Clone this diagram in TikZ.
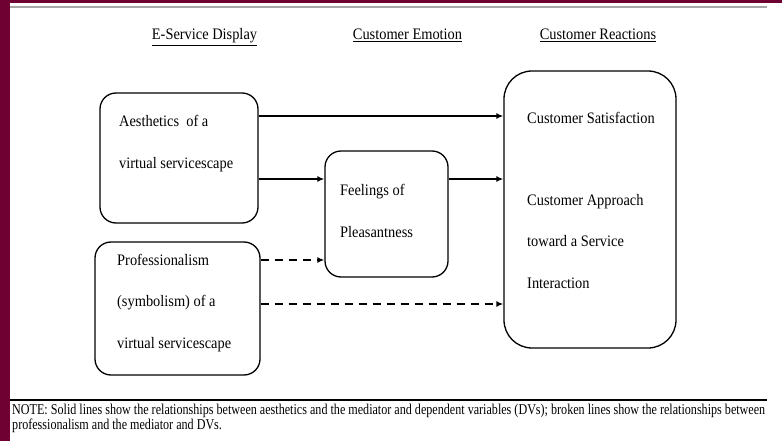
\documentclass[tikz,border=0pt]{standalone}
\usepackage{fontspec}
\setmainfont{Liberation Serif}
\newfontfamily\boxfont{Liberation Serif}[FakeStretch=0.9]
\newfontfamily\notefont{Liberation Serif}[FakeStretch=0.807]
\usepackage{xcolor}
\usetikzlibrary{positioning,arrows.meta}
\definecolor{slidemaroon}{RGB}{110,0,50}

\begin{document}
\begin{tikzpicture}[
    x=1pt, y=-1pt,
    box/.style={draw, rounded corners=16pt, line width=1.3pt, inner sep=0pt},
    txt/.style={anchor=base west, inner sep=0pt, align=left,
                font=\boxfont\fontsize{16}{41.5}\selectfont},
    head/.style={anchor=base, inner sep=0pt, font=\boxfont\fontsize{16}{18}\selectfont},
    arrow/.style={-{Latex[length=7pt,width=6pt]}, line width=2pt},
    dasharrow/.style={arrow, dash pattern=on 8pt off 6pt}
]
\useasboundingbox (0,0) rectangle (782,441);
\fill[white] (0,0) rectangle (782,441);
% slide frame
\fill[slidemaroon] (0,0) rectangle (10,441);
\fill[slidemaroon] (0,0) rectangle (782,3.5);
\draw[gray!70, line width=2.5pt] (10,7) -- (767,7);
\draw[black, line width=1.6pt] (10,400) -- (767,400);

% column heads
\node[head] (hdisp) at (204.5,40) {\underline{E-Service Display}};
\node[head] (hemo) at (407.5,40) {\underline{Customer Emotion}};
\node[head] (hreact) at (598,40) {\underline{Customer Reactions}};

% boxes
\node[box, minimum width=158pt, minimum height=130pt] (aes) at (179,158) {};
\node[box, minimum width=165pt, minimum height=133pt] (prof) at (177.5,308.5) {};
\node[box, minimum width=123pt, minimum height=126pt] (feel) at (386.5,214) {};
\node[box, rounded corners=28pt, minimum width=172pt, minimum height=277pt] (resp) at (590,209.5) {};

% box texts (base = last line)
\node[txt] (aestxt) at (119,168) {Aesthetics~ of a\\virtual servicescape};
\node[txt] (proftxt) at (117,348) {Professionalism\\(symbolism) of a\\virtual servicescape};
\node[txt] (feeltxt) at (340,237) {Feelings of\\Pleasantness};
\node[txt] (sattxt) at (527,124) {Customer Satisfaction};
\node[txt] (apptxt) at (527,288) {Customer Approach\\toward a Service\\Interaction};

% solid paths (aesthetics)
\draw[arrow] (aes.east |- 0,116) -- (resp.west |- 0,116);
\draw[arrow] (aes.east |- 0,179) -- (feel.west |- 0,179);
\draw[arrow] (feel.east |- 0,179) -- (resp.west |- 0,179);

% broken paths (professionalism)
\draw[dasharrow] (prof.east |- 0,260) -- (feel.west |- 0,260);
\draw[dasharrow] (prof.east |- 0,304) -- (resp.west |- 0,304);

% note
\node[anchor=base west, inner sep=0pt, align=left,
      font=\notefont\fontsize{15}{14.5}\selectfont] (note) at (12,429)
  {NOTE: Solid lines show the relationships between aesthetics and the mediator and dependent variables (DVs); broken lines show the relationships between\\professionalism and the mediator and DVs.};

\end{tikzpicture}
\end{document}
